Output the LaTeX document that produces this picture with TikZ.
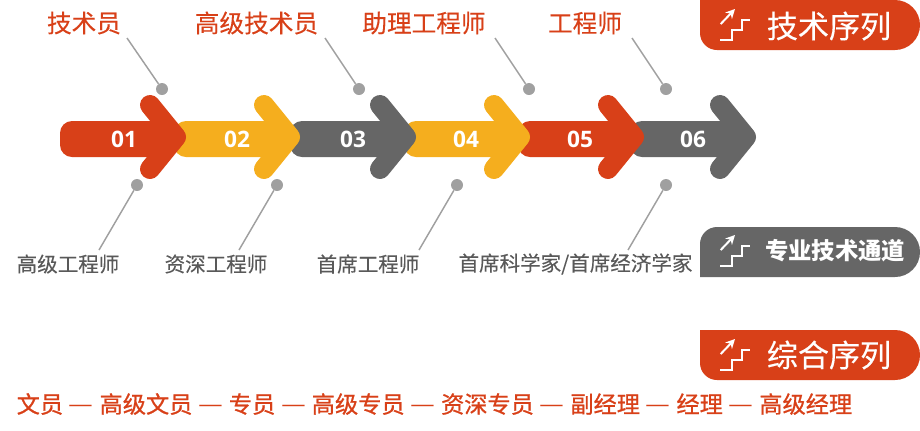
\documentclass[tikz,border=0pt]{standalone}
\usepackage{graphicx}
\usepackage{fontspec}
\setmainfont{Noto Sans CJK SC}
\newfontfamily\numfont{Open Sans}
\newfontfamily\semifont[FakeBold=0.25]{Noto Sans CJK SC}
\newfontfamily\midfont[FakeBold=0.9]{Noto Sans CJK SC}
\usetikzlibrary{arrows.meta}
\definecolor{cred}{HTML}{D84018}
\definecolor{cyel}{HTML}{F5AE1E}
\definecolor{cgry}{HTML}{666666}
\definecolor{cdot}{HTML}{A0A0A0}
\definecolor{clab}{HTML}{595959}
\tikzset{
  toplabel/.style={font=\semifont\fontsize{18.5}{20}\selectfont,text=cred,inner sep=0pt},
  sublabel/.style={font=\semifont\fontsize{15.4}{18}\selectfont,text=clab,inner sep=0pt},
  num/.style={font=\numfont\bfseries\fontsize{17}{20}\selectfont,text=white,inner sep=0pt},
  dot/.style={circle,fill=cdot,inner sep=0pt,minimum size=9pt},
  lead/.style={draw=cdot,line width=1.1pt},
  pilltext/.style={text=white,inner sep=0pt},
  stair/.style={draw=white,line width=1.5pt},
}
\newcommand{\arrowshape}[2]{% left x, colour
  \fill[#2,rounded corners=9pt] (#1,121) rectangle ++(112,36);
  \draw[#2,line width=15pt,line cap=round,line join=round]
     (#1+90,105) -- (#1+116,137) -- (#1+90,169);
}
\newcommand{\stairicon}[1]{% top y of icon
  \draw[stair] (720,#1+31) -- (731.7,#1+31) -- (731.7,#1+21) -- (741.7,#1+21) -- (741.7,#1+11) -- (750,#1+11);
  \draw[stair,-{Stealth[length=7pt,width=7pt]}] (720.7,#1+15) -- (735,#1+0);
}
\newcommand{\rowdash}{\hspace{4.35pt}{\normalfont\fontsize{17.4}{20}\selectfont\scalebox{1.2}[1]{—}}\hspace{4.35pt}}
\begin{document}
\begin{tikzpicture}[x=0.75pt,y=-0.75pt]
\useasboundingbox (0,0) rectangle (920,430);
% arrows, later ones underneath
\arrowshape{630}{cgry}
\arrowshape{518}{cred}
\arrowshape{404}{cyel}
\arrowshape{290}{cgry}
\arrowshape{174}{cyel}
\arrowshape{60}{cred}
\node[num] (n1) at (124,139) {01};
\node[num] (n2) at (237,139) {02};
\node[num] (n3) at (353,139) {03};
\node[num] (n4) at (466,139) {04};
\node[num] (n5) at (580,139) {05};
\node[num] (n6) at (693,139) {06};
% top labels
\node[toplabel] (t1) at (84,23) {技术员};
\node[toplabel] (t2) at (256.5,23) {高级技术员};
\node[toplabel] (t3) at (424,23) {助理工程师};
\node[toplabel] (t4) at (585,23) {工程师};
\node[dot] (d1) at (162,89) {};
\node[dot] (d2) at (359,89) {};
\node[dot] (d3) at (529,89) {};
\node[dot] (d4) at (666,89) {};
\coordinate (s1) at (127,38);
\coordinate (s2) at (325,38);
\coordinate (s3) at (495,38);
\coordinate (s4) at (632,38);
\foreach \i in {1,2,3,4} \draw[lead] (s\i) -- (d\i);
% bottom labels
\node[sublabel] (b1) at (68,264) {高级工程师};
\node[sublabel] (b2) at (216,264) {资深工程师};
\node[sublabel] (b3) at (368,264) {首席工程师};
\node[sublabel] (b4) at (575.5,264) {首席科学家/首席经济学家};
\node[dot] (e1) at (137,185) {};
\node[dot] (e2) at (277,185) {};
\node[dot] (e3) at (457,185) {};
\node[dot] (e4) at (666,185) {};
\coordinate (f1) at (99,250);
\coordinate (f2) at (239,250);
\coordinate (f3) at (419,250);
\coordinate (f4) at (628,250);
\foreach \i in {1,2,3,4} \draw[lead] (f\i) -- (e\i);
% pills
\fill[cred] (700,0) -- (895,0) arc[start angle=90,end angle=-90,radius=25*0.75pt] -- (717,50) arc[start angle=270,end angle=180,radius=17*0.75pt] -- cycle;
\node[pilltext,font=\semifont\fontsize{23.3}{26}\selectfont] (p1) at (829,26) {技术序列};
\stairicon{9}
\fill[cgry] (700,277) -- (895,277) arc[start angle=-90,end angle=90,radius=25*0.75pt] -- (717,227) arc[start angle=90,end angle=180,radius=17*0.75pt] -- cycle;
\node[pilltext,font=\bfseries\fontsize{17.5}{20}\selectfont] (p2) at (835,251) {专业技术通道};
\stairicon{235}
\fill[cred] (700,330) -- (895,330) arc[start angle=90,end angle=-90,radius=25*0.75pt] -- (717,380) arc[start angle=270,end angle=180,radius=17*0.75pt] -- cycle;
\node[pilltext,font=\semifont\fontsize{23.3}{26}\selectfont] (p3) at (829,355) {综合序列};
\stairicon{339}
% bottom row
\node[inner sep=0pt,anchor=west,text=cred,font=\midfont\fontsize{17.4}{20}\selectfont] (row) at (16.5,404)
 {文员\rowdash 高级文员\rowdash 专员\rowdash 高级专员\rowdash 资深专员\rowdash 副经理\rowdash 经理\rowdash 高级经理};
\end{tikzpicture}
\end{document}
